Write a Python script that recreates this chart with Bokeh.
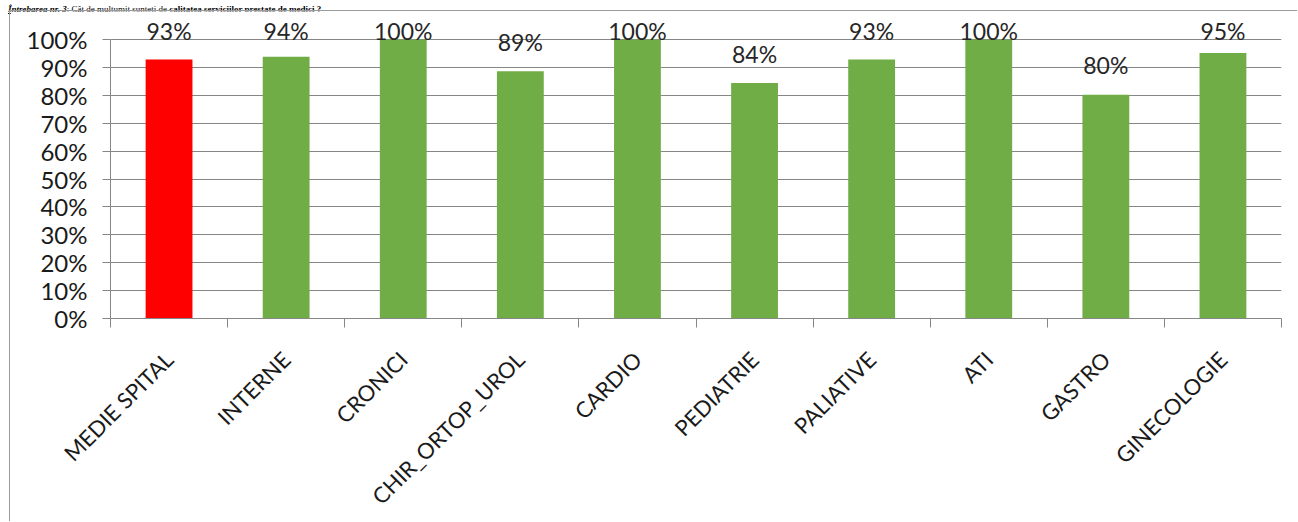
import numpy as np
from bokeh.plotting import figure
from bokeh.layouts import column
from bokeh.models import Range1d, FixedTicker, ColumnDataSource, LabelSet, Div
from bokeh.embed import file_html
from bokeh.resources import INLINE
from bokeh.core.properties import value

categories = ["MEDIE SPITAL", "INTERNE", "CRONICI", "CHIR_ORTOP_UROL", "CARDIO",
              "PEDIATRIE", "PALIATIVE", "ATI", "GASTRO", "GINECOLOGIE"]
scores = [92.8, 93.8, 100.0, 88.6, 100.0, 84.4, 92.8, 100.0, 80.2, 95.2]
bar_colors = ["#FF0000"] + ["#70AD47"] * 9
y_ticks = list(range(0, 101, 10))
y_tick_labels = [f"{t}%" for t in y_ticks]
title_parts = ["Întrebarea nr. 3", ": Cât de mulțumit sunteți de ",
               "calitatea serviciilor prestate  de medici", " ?"]

n = len(categories)
xs = list(range(n))
label_y = [min(s + 7.3, 100.0) for s in scores]
labels = [f"{round(s)}%" for s in scores]

src = ColumnDataSource(dict(x=xs, top=scores, color=bar_colors, ly=label_y, lbl=labels))

FONT = "Lato"
AXIS_COLOR = "#868686"
BORDER = "1px solid #9a9a9a"

# document heading above the chart box (kept small so it fits the strip)
title_html = (
    '<div style="font-family:\'Liberation Serif\';font-size:9px;line-height:10px;'
    'white-space:nowrap;margin:0 0 0 8px;color:#000;">'
    f'<b><i><u>{title_parts[0]}</u></i></b>{title_parts[1]}'
    f'<b>{title_parts[2]}</b><b>{title_parts[3]}</b></div>'
)
head = Div(text=title_html, width=1298, height=10, margin=0)

PW, PH = 1288, 511
frame_bottom_px = 307          # frame height in px
hundred_px = 279               # px from 0% to 100%
p = figure(width=PW, height=PH,
           x_range=Range1d(-0.5, n - 0.5),
           y_range=Range1d(0, 100 * frame_bottom_px / hundred_px),
           output_backend="svg", toolbar_location=None,
           min_border_left=100, min_border_right=17,
           min_border_top=0, min_border_bottom=PH - frame_bottom_px,
           margin=0,
           styles={"margin-left": "9px", "border-left": BORDER, "border-top": BORDER})
p.outline_line_color = None
p.background_fill_color = "white"

p.vbar(x="x", top="top", width=0.4, bottom=0, color="color", line_color=None, source=src)

# x axis: ticks at category boundaries (minor), labels at centres (major)
xa = p.xaxis[0]
xa.ticker = FixedTicker(ticks=xs, minor_ticks=[i - 0.5 for i in range(n + 1)])
xa.major_label_overrides = {i: c for i, c in zip(xs, categories)}
xa.major_tick_out = 0
xa.major_tick_in = 0
xa.minor_tick_out = 9
xa.minor_tick_in = 0
xa.minor_tick_line_color = AXIS_COLOR
xa.axis_line_color = AXIS_COLOR
xa.major_label_orientation = np.pi / 4
xa.major_label_standoff = 28
xa.major_label_text_font = FONT
xa.major_label_text_font_size = "22px"
xa.major_label_text_color = "#1a1a1a"

ya = p.yaxis[0]
ya.ticker = FixedTicker(ticks=y_ticks)
ya.bounds = (0, 100)
ya.major_label_overrides = {t: l for t, l in zip(y_ticks, y_tick_labels)}
ya.major_tick_out = 8
ya.major_tick_in = 0
ya.minor_tick_line_color = None
ya.major_tick_line_color = AXIS_COLOR
ya.axis_line_color = AXIS_COLOR
ya.major_label_standoff = 15
ya.major_label_text_font = FONT
ya.major_label_text_font_size = "24px"
ya.major_label_text_color = "#1a1a1a"

p.xgrid.visible = False
p.ygrid.grid_line_color = AXIS_COLOR
p.ygrid.grid_line_width = 1

p.add_layout(LabelSet(x="x", y="ly", text="lbl", source=src,
                      text_align="center", text_baseline="alphabetic",
                      text_font=value(FONT), text_font_size=value("23px"),
                      text_color="#262626"))

layout = column(head, p, spacing=0)
open("out.html", "w").write(file_html(layout, INLINE))
